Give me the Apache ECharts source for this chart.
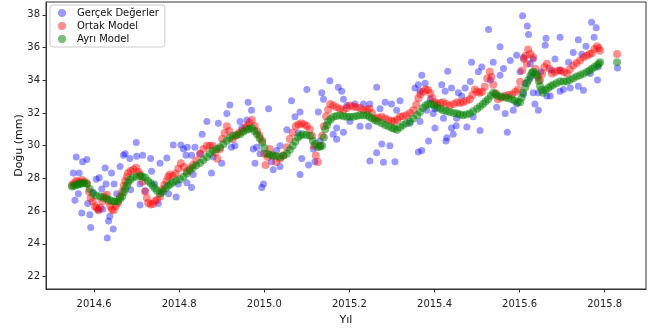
<!DOCTYPE html>
<html><head><meta charset="utf-8">
<script src="https://cdn.jsdelivr.net/npm/echarts@6/dist/echarts.min.js"></script>
<style>html,body{margin:0;padding:0;background:#fff}#c{width:657px;height:331px}</style>
</head><body><div id="c"></div>
<script>
const seriesNames = ['Gerçek Değerler', 'Ortak Model', 'Ayrı Model'];
const xTicks = [2014.6, 2014.8, 2015.0, 2015.2, 2015.4, 2015.6, 2015.8];
const yTicks = [22, 24, 26, 28, 30, 32, 34, 36, 38];

const actual = [
[2014.558,29.31],[2014.573,29.02],[2014.583,29.16],[2014.551,28.33],[2014.565,28.33],[2014.555,26.67],[2014.563,27.06],[2014.571,25.88],[2014.590,25.78],[2014.592,25.00],[2014.585,26.47],[2014.605,27.94],[2014.612,28.04],[2014.626,28.63],[2014.641,28.33],[2014.628,27.65],[2014.647,27.65],[2014.661,28.73],[2014.669,29.41],[2014.673,29.51],[2014.684,29.22],[2014.699,30.20],[2014.700,29.35],[2014.714,29.41],[2014.733,29.22],[2014.755,28.92],[2014.771,29.25],[2014.786,30.04],[2014.804,30.04],[2014.810,29.80],[2014.816,29.41],[2014.819,29.90],[2014.598,27.16],[2014.610,26.08],[2014.620,26.12],[2014.634,25.39],[2014.637,25.69],[2014.645,24.90],[2014.631,24.35],[2014.708,26.37],[2014.686,27.30],[2014.720,27.25],[2014.742,27.65],[2014.751,26.47],[2014.735,28.43],[2014.653,27.06],[2014.708,27.65],[2014.793,26.86],[2014.798,27.65],[2014.759,27.16],[2014.818,27.74],[2014.775,27.06],[2014.618,27.35],
[2014.919,32.49],[2014.962,32.65],[2015.010,32.25],[2015.064,32.75],[2015.100,33.43],[2015.084,32.06],[2015.072,31.77],[2014.970,32.16],[2014.912,31.96],[2014.865,31.47],[2014.892,31.37],[2014.943,31.47],[2014.947,31.08],[2014.854,30.69],[2014.837,29.90],[2014.829,29.41],[2014.849,29.51],[2014.880,29.31],[2014.900,28.92],[2014.876,28.33],[2014.833,28.24],[2014.829,27.45],[2014.923,29.90],[2014.931,30.00],[2014.974,29.80],[2014.990,29.51],[2014.982,29.90],[2015.017,29.02],[2015.021,28.53],[2015.053,30.98],[2015.080,30.78],[2015.037,30.00],[2014.994,27.45],[2014.998,27.65],[2015.088,29.22],[2015.104,28.82],[2015.084,28.24],[2015.037,28.73],[2015.029,29.71],[2014.978,28.92],[2014.959,31.57],
[2015.154,33.96],[2015.174,33.57],[2015.182,33.33],[2015.135,33.24],[2015.139,32.84],[2015.127,32.06],[2015.186,32.84],[2015.194,32.45],[2015.213,32.55],[2015.233,32.55],[2015.248,32.55],[2015.201,31.47],[2015.225,31.18],[2015.245,31.18],[2015.272,32.25],[2015.284,32.65],[2015.299,32.55],[2015.319,32.75],[2015.311,32.16],[2015.342,31.37],[2015.354,33.53],[2015.362,33.73],[2015.370,34.31],[2015.378,33.82],[2015.264,33.57],[2015.170,31.08],[2015.170,30.39],[2015.162,30.69],[2015.186,30.82],[2015.276,30.10],[2015.295,30.00],[2015.264,29.57],[2015.248,29.06],[2015.280,28.98],[2015.307,29.02],[2015.362,29.61],[2015.386,30.29],[2015.119,29.02],[2015.131,30.29],[2015.115,29.80],
[2015.554,36.04],[2015.593,35.53],[2015.578,35.20],[2015.538,35.10],[2015.511,34.80],[2015.503,34.51],[2015.487,35.10],[2015.431,34.55],[2015.366,33.33],[2015.417,33.73],[2015.440,33.53],[2015.425,33.33],[2015.456,33.24],[2015.464,33.04],[2015.472,33.53],[2015.484,33.92],[2015.531,34.02],[2015.554,34.31],[2015.562,34.71],[2015.601,34.51],[2015.625,34.12],[2015.636,32.55],[2015.644,32.16],[2015.609,33.14],[2015.593,32.55],[2015.546,32.35],[2015.566,31.96],[2015.585,32.16],[2015.491,31.76],[2015.452,31.67],[2015.421,31.67],[2015.397,31.96],[2015.390,32.84],[2015.366,31.47],[2015.401,31.08],[2015.440,31.08],[2015.451,31.22],[2015.444,30.69],[2015.429,30.49],[2015.427,30.29],[2015.476,31.14],[2015.507,30.92],[2015.571,30.82],[2015.370,29.71],[2015.401,32.25],[2015.382,32.16],[2015.527,37.10],
[2015.607,37.94],[2015.618,37.31],[2015.621,36.80],[2015.662,36.57],[2015.660,36.14],[2015.695,36.63],[2015.738,36.47],[2015.756,36.08],[2015.769,37.55],[2015.780,37.20],[2015.775,36.63],[2015.726,35.69],[2015.746,35.59],[2015.609,35.39],[2015.632,35.29],[2015.625,35.00],[2015.683,35.29],[2015.715,35.10],[2015.675,34.61],[2015.695,34.61],[2015.650,34.51],[2015.613,33.82],[2015.632,33.24],[2015.644,33.24],[2015.672,33.04],[2015.664,33.04],[2015.695,33.33],[2015.703,33.43],[2015.719,33.53],[2015.738,33.63],[2015.750,33.39],[2015.766,34.41],[2015.785,34.80],[2015.783,34.02],[2015.830,34.75]
];

const common = [
[2014.548,27.60],[2014.553,27.70],[2014.558,27.85],[2014.563,27.80],[2014.567,27.75],[2014.572,27.90],[2014.577,27.80],[2014.583,27.70],[2014.588,27.20],[2014.592,26.80],[2014.597,26.60],[2014.602,26.30],[2014.606,26.20],[2014.610,26.05],[2014.614,26.20],[2014.619,26.60],[2014.624,26.90],[2014.630,27.00],[2014.634,26.60],[2014.638,26.30],[2014.642,26.10],[2014.646,26.05],[2014.651,26.30],[2014.656,26.50],[2014.661,26.90],[2014.666,27.20],[2014.670,27.55],[2014.673,27.84],[2014.677,28.10],[2014.680,28.33],[2014.686,28.45],[2014.692,28.55],[2014.699,28.65],[2014.704,28.40],[2014.708,28.24],[2014.714,27.80],[2014.720,27.20],[2014.724,26.80],[2014.727,26.50],[2014.733,26.40],[2014.738,26.45],[2014.743,26.60],[2014.748,26.70],[2014.755,26.90],[2014.760,27.30],[2014.765,27.60],[2014.770,27.84],[2014.774,28.10],[2014.778,28.24],[2014.785,28.14],[2014.792,28.30],[2014.798,28.60],[2014.804,28.92],[2014.811,28.70],[2014.818,28.43],[2014.825,28.60],[2014.832,28.82],[2014.840,29.10],[2014.849,29.50],[2014.857,29.80],[2014.865,30.00],[2014.872,30.00],[2014.879,30.00],[2014.885,29.60],[2014.890,29.20],[2014.896,29.80],[2014.901,30.40],[2014.907,30.78],[2014.912,31.18],[2014.918,30.90],[2014.926,30.40],[2014.933,30.60],[2014.940,30.78],[2014.947,30.90],[2014.955,31.10],[2014.959,31.18],[2014.965,31.40],[2014.971,31.57],[2014.977,31.20],[2014.983,30.88],[2014.989,30.60],[2014.995,30.30],[2015.000,29.50],[2015.003,28.82],[2015.008,29.30],[2015.013,29.80],[2015.020,29.40],[2015.028,29.00],[2015.037,29.20],[2015.045,29.40],[2015.053,29.90],[2015.060,30.40],[2015.067,30.80],[2015.074,31.18],[2015.080,31.30],[2015.087,31.37],[2015.094,31.30],[2015.100,31.20],[2015.107,31.00],[2015.112,30.60],[2015.117,30.00],[2015.121,29.40],[2015.126,29.00],[2015.131,30.00],[2015.136,30.60],[2015.140,31.18],[2015.145,31.80],[2015.150,32.20],[2015.155,32.55],[2015.162,32.45],[2015.170,32.35],[2015.178,32.25],[2015.186,32.16],[2015.194,32.30],[2015.201,32.45],[2015.209,32.40],[2015.217,32.35],[2015.225,32.30],[2015.233,32.16],[2015.241,32.20],[2015.247,32.25],[2015.253,32.00],[2015.260,31.66],[2015.267,31.70],[2015.276,31.76],[2015.284,31.66],[2015.292,31.57],[2015.300,31.50],[2015.306,31.47],[2015.312,31.60],[2015.319,31.76],[2015.326,31.80],[2015.334,31.86],[2015.342,32.00],[2015.350,32.16],[2015.357,32.50],[2015.362,32.90],[2015.367,33.14],[2015.373,33.30],[2015.379,33.43],[2015.385,33.40],[2015.390,33.20],[2015.395,32.90],[2015.400,32.65],[2015.406,32.55],[2015.413,32.60],[2015.420,32.65],[2015.428,32.55],[2015.436,32.45],[2015.445,32.55],[2015.453,32.65],[2015.460,32.60],[2015.467,32.65],[2015.475,32.75],[2015.483,32.84],[2015.489,33.10],[2015.495,33.43],[2015.500,33.30],[2015.506,33.24],[2015.512,33.30],[2015.518,33.60],[2015.524,34.10],[2015.530,34.51],[2015.534,34.20],[2015.538,33.73],[2015.544,33.20],[2015.549,32.84],[2015.557,32.95],[2015.566,33.04],[2015.574,33.10],[2015.582,33.14],[2015.590,33.30],[2015.596,33.43],[2015.601,33.90],[2015.606,34.60],[2015.610,35.30],[2015.614,35.50],[2015.617,35.00],[2015.620,35.88],[2015.625,35.60],[2015.632,35.40],[2015.637,34.70],[2015.643,34.20],[2015.648,34.02],[2015.653,34.40],[2015.658,34.80],[2015.664,35.00],[2015.670,34.70],[2015.676,34.41],[2015.683,34.50],[2015.690,34.60],[2015.697,34.60],[2015.704,34.50],[2015.711,34.41],[2015.718,34.65],[2015.726,34.90],[2015.734,35.05],[2015.742,35.20],[2015.750,35.40],[2015.758,35.49],[2015.764,35.60],[2015.770,35.65],[2015.776,35.90],[2015.782,36.08],[2015.786,35.95],[2015.789,35.80],[2015.829,35.60]
];

const separate = [
[2014.548,27.50],[2014.553,27.55],[2014.558,27.60],[2014.563,27.62],[2014.567,27.65],[2014.572,27.70],[2014.577,27.72],[2014.583,27.65],[2014.590,27.35],[2014.597,27.06],[2014.605,26.95],[2014.614,26.90],[2014.622,26.82],[2014.630,26.76],[2014.637,26.68],[2014.644,26.60],[2014.650,26.58],[2014.656,26.60],[2014.661,26.75],[2014.666,26.90],[2014.670,27.15],[2014.673,27.35],[2014.677,27.55],[2014.680,27.76],[2014.685,27.92],[2014.691,28.06],[2014.700,28.12],[2014.708,28.14],[2014.714,28.10],[2014.720,28.06],[2014.727,27.84],[2014.733,27.70],[2014.738,27.55],[2014.743,27.40],[2014.748,27.25],[2014.755,27.06],[2014.762,27.20],[2014.768,27.40],[2014.774,27.55],[2014.780,27.66],[2014.785,27.76],[2014.793,27.85],[2014.802,27.94],[2014.810,28.10],[2014.818,28.30],[2014.825,28.48],[2014.832,28.65],[2014.840,28.80],[2014.849,28.94],[2014.857,29.12],[2014.865,29.30],[2014.872,29.50],[2014.879,29.70],[2014.888,29.80],[2014.896,29.90],[2014.904,30.10],[2014.912,30.30],[2014.919,30.45],[2014.926,30.60],[2014.935,30.65],[2014.943,30.70],[2014.951,30.85],[2014.959,30.98],[2014.965,31.03],[2014.971,31.08],[2014.977,30.90],[2014.983,30.70],[2014.989,30.45],[2014.995,30.20],[2015.000,29.85],[2015.006,29.50],[2015.013,29.45],[2015.020,29.40],[2015.028,29.35],[2015.037,29.30],[2015.045,29.40],[2015.053,29.50],[2015.060,29.75],[2015.067,30.00],[2015.073,30.25],[2015.079,30.50],[2015.085,30.62],[2015.091,30.70],[2015.099,30.65],[2015.107,30.60],[2015.114,30.30],[2015.120,30.10],[2015.126,29.90],[2015.131,29.95],[2015.136,30.00],[2015.140,30.50],[2015.143,31.00],[2015.147,31.25],[2015.150,31.47],[2015.156,31.62],[2015.162,31.76],[2015.170,31.82],[2015.178,31.86],[2015.186,31.80],[2015.194,31.76],[2015.201,31.76],[2015.209,31.76],[2015.217,31.82],[2015.225,31.86],[2015.233,31.86],[2015.241,31.86],[2015.247,31.76],[2015.253,31.66],[2015.260,31.56],[2015.267,31.47],[2015.276,31.37],[2015.284,31.27],[2015.292,31.17],[2015.300,31.08],[2015.306,31.03],[2015.312,30.98],[2015.319,31.12],[2015.326,31.27],[2015.334,31.37],[2015.342,31.47],[2015.350,31.66],[2015.359,31.86],[2015.366,32.05],[2015.373,32.30],[2015.379,32.45],[2015.385,32.55],[2015.392,32.55],[2015.399,32.45],[2015.406,32.35],[2015.413,32.25],[2015.420,32.16],[2015.428,32.10],[2015.436,32.06],[2015.445,32.00],[2015.453,31.96],[2015.460,31.90],[2015.467,31.86],[2015.475,31.90],[2015.483,31.96],[2015.491,32.10],[2015.500,32.25],[2015.507,32.40],[2015.514,32.55],[2015.520,32.70],[2015.526,32.84],[2015.532,33.05],[2015.538,33.24],[2015.543,33.14],[2015.549,33.04],[2015.557,33.00],[2015.566,32.94],[2015.574,32.90],[2015.582,32.84],[2015.589,32.75],[2015.596,32.65],[2015.601,32.65],[2015.605,32.95],[2015.608,33.24],[2015.613,33.55],[2015.617,33.82],[2015.620,34.00],[2015.625,34.25],[2015.629,34.45],[2015.632,34.51],[2015.637,34.40],[2015.641,34.30],[2015.645,33.95],[2015.648,33.63],[2015.652,33.40],[2015.655,33.24],[2015.661,33.40],[2015.667,33.53],[2015.673,33.63],[2015.679,33.73],[2015.687,33.82],[2015.695,33.92],[2015.703,33.92],[2015.711,33.92],[2015.718,34.02],[2015.726,34.12],[2015.734,34.22],[2015.742,34.31],[2015.750,34.40],[2015.758,34.50],[2015.764,34.60],[2015.770,34.70],[2015.776,34.80],[2015.782,34.90],[2015.786,35.00],[2015.789,35.10],[2015.829,35.10]
];

const FONT = 'DejaVu Sans';
const chart = echarts.init(document.getElementById('c'), null, {renderer: 'canvas'});
const axisCommon = {
  axisLine: {show: true, lineStyle: {color: '#333', width: 1}},
  splitLine: {show: false},
  nameMoveOverlap: false,
  nameTextStyle: {fontFamily: FONT, fontSize: 11, color: '#111'}
};
chart.setOption({
  animation: false,
  backgroundColor: '#fff',
  grid: {left: 46, right: 11, top: 2, bottom: 32, show: true, borderColor: '#333', borderWidth: 1, backgroundColor: 'transparent'},
  legend: {
    data: seriesNames, orient: 'vertical', left: 50, top: 5,
    icon: 'circle', itemWidth: 8, itemHeight: 8, itemGap: 3,
    backgroundColor: 'rgba(255,255,255,0.8)', borderColor: '#ccc', borderWidth: 1, borderRadius: 3,
    padding: [3, 6, 3, 8],
    textStyle: {fontFamily: FONT, fontSize: 10, color: '#111', padding: [0, 0, 0, 6]}
  },
  xAxis: Object.assign({}, axisCommon, {
    type: 'value', min: 2014.487, max: 2015.897,
    name: 'Yıl', nameLocation: 'middle', nameGap: 26,
    axisTick: {show: true, inside: false, length: 3.5, customValues: xTicks, lineStyle: {color: '#333'}},
    axisLabel: {customValues: xTicks, formatter: v => v.toFixed(1), margin: 10, fontFamily: FONT, fontSize: 10, color: '#222'}
  }),
  yAxis: Object.assign({}, axisCommon, {
    type: 'value', min: 21.24, max: 38.78,
    name: 'Doğu (mm)', nameLocation: 'middle', nameGap: 21, nameRotate: 90,
    axisTick: {show: true, inside: false, length: 3.5, customValues: yTicks, lineStyle: {color: '#333'}},
    axisLabel: {customValues: yTicks, formatter: v => String(v), margin: 6, fontFamily: FONT, fontSize: 10, color: '#222'}
  }),
  series: [
    {name: seriesNames[0], type: 'scatter', data: actual, symbolSize: 7, itemStyle: {color: 'rgba(0,0,255,0.5)'}, z: 2},
    {name: seriesNames[1], type: 'scatter', data: common, symbolSize: 8, itemStyle: {color: 'rgba(255,0,0,0.55)'}, z: 3},
    {name: seriesNames[2], type: 'scatter', data: separate, symbolSize: 8, itemStyle: {color: 'rgba(0,128,0,0.65)'}, z: 4}
  ]
});
</script></body></html>
